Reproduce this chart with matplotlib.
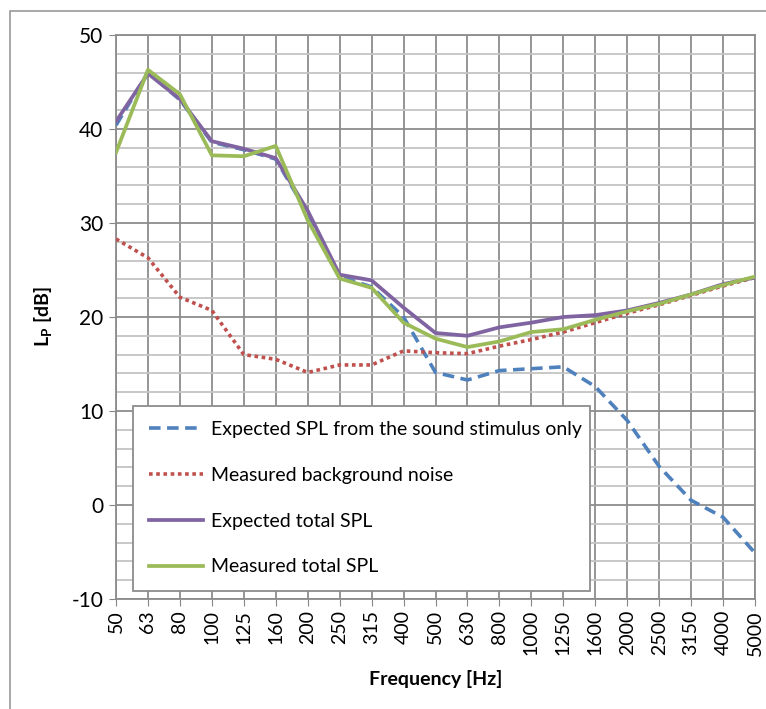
import numpy as np
import matplotlib
matplotlib.use("Agg")
import matplotlib.pyplot as plt
from matplotlib.patches import Rectangle

plt.rcParams['font.family'] = ['Lato', 'DejaVu Sans']
plt.rcParams['mathtext.fontset'] = 'custom'
plt.rcParams['mathtext.rm'] = 'Lato'
plt.rcParams['mathtext.bf'] = 'Lato:bold'
plt.rcParams['axes.unicode_minus'] = False

# third-octave band centre frequencies
freqs = ["50", "63", "80", "100", "125", "160", "200", "250", "315", "400",
         "500", "630", "800", "1000", "1250", "1600", "2000", "2500", "3150",
         "4000", "5000"]

expected_stimulus = [40.4, 46.0, 43.1, 38.6, 37.8, 36.8, 31.0, 24.3, 23.2, 20.0,
                     14.1, 13.3, 14.3, 14.5, 14.7, 12.6, 9.0, 4.1, 0.5, -1.3, -5.1]
background_noise = [28.3, 26.3, 22.1, 20.7, 16.0, 15.5, 14.1, 14.9, 14.9, 16.4,
                    16.2, 16.1, 16.9, 17.6, 18.4, 19.4, 20.4, 21.3, 22.3, 23.3, 24.2]
expected_total = [40.8, 45.9, 43.2, 38.7, 37.9, 36.9, 31.3, 24.5, 23.9, 21.0,
                  18.3, 18.0, 18.9, 19.4, 20.0, 20.2, 20.7, 21.5, 22.4, 23.5, 24.2]
measured_total = [37.5, 46.3, 43.7, 37.2, 37.1, 38.2, 30.3, 24.1, 23.1, 19.4,
                  17.7, 16.8, 17.4, 18.4, 18.7, 19.7, 20.6, 21.4, 22.4, 23.4, 24.3]

x = np.arange(len(freqs))

fig = plt.figure(figsize=(7.66, 7.09), dpi=100)
ax = fig.add_axes([116 / 766, 1 - 599 / 709, 639 / 766, 564 / 709])

# outer chart border (only top/left visible in the crop)
fig.patches.append(Rectangle((10 / 766, -0.1), 1.2, 1 - 11 / 709 + 0.1,
                             transform=fig.transFigure, fill=False,
                             edgecolor='#9a9a9a', linewidth=1.2))

ax.plot(x, expected_stimulus, color='#4F81BD', lw=2.6, ls=(0, (3.2, 1.8)),
        label='Expected SPL from the sound stimulus only', zorder=3)
ax.plot(x, background_noise, color='#C0504D', lw=2.6, ls=(0, (1, 1)),
        label='Measured background noise', zorder=3)
ax.plot(x, expected_total, color='#8064A2', lw=2.7,
        label='Expected total SPL', zorder=4)
ax.plot(x, measured_total, color='#9BBB59', lw=2.7,
        label='Measured total SPL', zorder=5)

ax.set_xlim(0, len(freqs) - 1)
ax.set_ylim(-10, 50)
ax.set_xticks(x)
ax.set_xticklabels(freqs, rotation=90, fontsize=14)
ax.set_yticks(np.arange(-10, 51, 10))
ax.set_yticks(np.arange(-10, 51, 2), minor=True)
ax.tick_params(axis='y', which='major', labelsize=15, length=5, color='#868686', pad=4)
ax.tick_params(axis='y', which='minor', length=0)
ax.tick_params(axis='x', length=5, color='#868686', pad=3)

ax.grid(True, which='major', axis='both', color='#8c8c8c', lw=1.3, zorder=0)
ax.grid(True, which='minor', axis='y', color='#c4c4c4', lw=1.3, zorder=0)
ax.set_axisbelow(True)
for s in ax.spines.values():
    s.set_color('#8c8c8c')
    s.set_linewidth(1.3)

ax.set_xlabel('Frequency [Hz]', fontsize=14, fontweight='bold', labelpad=10)
ax.set_ylabel(r'L$_\mathbf{P}$ [dB]', fontsize=14, fontweight='bold', labelpad=12)

leg = ax.legend(loc='lower left', bbox_to_anchor=(0.0266, 0.0142, 0.7154, 0.3333),
                mode='expand', fontsize=14, handlelength=2.8, handletextpad=0.4,
                labelspacing=1.48, borderpad=0.8, fancybox=False, framealpha=1,
                edgecolor='#8c8c8c', borderaxespad=0)
leg.get_frame().set_linewidth(1.3)
leg.set_zorder(10)

fig.savefig('out.png', dpi=100)
